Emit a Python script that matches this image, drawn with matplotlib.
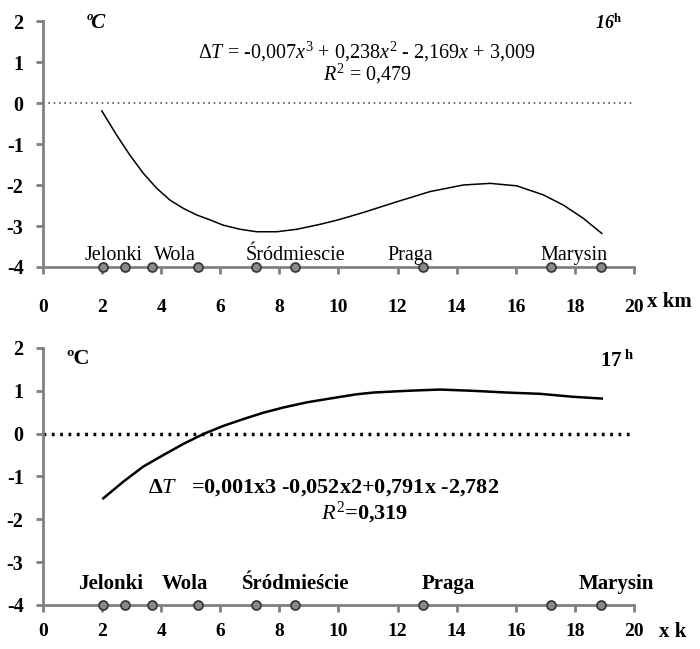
import matplotlib.pyplot as plt

plt.rcParams['font.family'] = ['Liberation Serif', 'DejaVu Serif']
plt.rcParams['mathtext.fontset'] = 'custom'
plt.rcParams['mathtext.rm'] = 'Liberation Serif'
plt.rcParams['mathtext.it'] = 'Liberation Serif:italic'
plt.rcParams['mathtext.bf'] = 'Liberation Serif:bold'

# distance along the transect (km) and temperature anomaly (°C)
x16 = [1.99, 2.49, 2.94, 3.39, 3.85, 4.30, 4.75, 5.20, 5.65, 6.10, 6.67, 7.23,
       7.91, 8.59, 9.37, 9.99, 10.84, 11.97, 13.10, 14.22, 15.13, 16.03,
       16.93, 17.61, 18.28, 18.91]
t16 = [-0.19, -0.78, -1.27, -1.71, -2.08, -2.37, -2.57, -2.73, -2.85, -2.98,
       -3.08, -3.14, -3.14, -3.08, -2.96, -2.85, -2.67, -2.41, -2.16, -2.0,
       -1.96, -2.02, -2.24, -2.49, -2.81, -3.18]

x17 = [2.04, 2.72, 3.39, 4.07, 4.75, 5.42, 6.10, 6.78, 7.46, 8.13, 8.92, 9.71,
       10.62, 11.18, 12.31, 13.43, 14.56, 15.69, 16.82, 17.95, 18.91]
t17 = [-1.51, -1.12, -0.77, -0.50, -0.24, -0.01, 0.18, 0.34, 0.49, 0.61, 0.73,
       0.82, 0.92, 0.96, 1.0, 1.03, 1.0, 0.96, 0.93, 0.86, 0.82]

# measuring stations
stations_x = [2.02, 2.77, 3.68, 5.23, 7.2, 8.53, 12.85, 17.2, 18.87]

names16 = ['Jelonki', 'Wola', 'Śródmiescie', 'Praga', 'Marysin']
names16_x = [2.39, 4.45, 8.53, 12.42, 17.97]
names17 = ['Jelonki', 'Wola', 'Śródmieście', 'Praga', 'Marysin']
names17_x = [2.3, 4.8, 8.56, 13.7, 19.4]

xticks = [0, 2, 4, 6, 8, 10, 12, 14, 16, 18, 20]
yticks = [-4, -3, -2, -1, 0, 1, 2]

fig = plt.figure(figsize=(7, 6.49), dpi=100)
ax1 = fig.add_axes([0.0614, 0.5886, 0.8443, 0.379])
ax2 = fig.add_axes([0.0614, 0.0678, 0.8443, 0.396])

grey = '#808080'


def style_axis(ax, pad):
    ax.set_xlim(0, 20)
    ax.set_ylim(-4, 2)
    ax.set_xticks(xticks)
    ax.set_yticks(yticks)
    ax.set_xticklabels([str(v) for v in xticks], fontsize=14, fontweight='bold')
    ax.set_yticklabels([str(v) for v in yticks], fontsize=14.5, fontweight='bold')
    for s in ['top', 'right']:
        ax.spines[s].set_visible(False)
    for s in ['left', 'bottom']:
        ax.spines[s].set_color(grey)
        ax.spines[s].set_linewidth(2)
    ax.tick_params(axis='both', colors=grey, width=2, length=5, labelcolor='black')
    ax.tick_params(axis='x', pad=pad)
    ax.tick_params(axis='y', pad=9)


# 16 h
style_axis(ax1, 18)
ax1.plot([0, 20], [0, 0], color='#555555', lw=1.2, ls=(0, (1, 2.2)))
ax1.plot(x16, t16, color='black', lw=1.1)
ax1.plot(stations_x, [-4] * len(stations_x), 'o', ms=6.5, mfc='#888888',
         mec='#333333', mew=1.2, clip_on=False, zorder=5)
for n, xv in zip(names16, names16_x):
    ax1.text(xv, -3.72, n, ha='center', va='center', fontsize=14.5)
ax1.text(10.96, 1.25,
         r'$\Delta T$ = -0,007$x^3$ + 0,238$x^2$ - 2,169$x$ + 3,009',
         ha='center', va='center', fontsize=14.5)
ax1.text(11.0, 0.71, r'$R^2$ = 0,479', ha='center', va='center', fontsize=14.5)
ax1.text(1.8, 1.95, 'ºC', ha='center', va='center', fontsize=15,
         fontweight='bold', fontstyle='italic')
ax1.text(19.6, 1.95, r'16$^{\mathbf{h}}$', ha='right', va='center', fontsize=13,
         fontweight='bold', fontstyle='italic')
ax1.text(21.2, -4.85, 'x km', ha='center', va='center', fontsize=15,
         fontweight='bold', clip_on=False)

# 17 h
style_axis(ax2, 8)
ax2.plot([0, 20], [0, 0], color='black', lw=2.5, ls=(0, (0.8, 1.6)))
ax2.plot(x17, t17, color='black', lw=1.8)
ax2.plot(stations_x, [-4] * len(stations_x), 'o', ms=6.5, mfc='#888888',
         mec='#333333', mew=1.2, clip_on=False, zorder=5)
for n, xv in zip(names17, names17_x):
    ax2.text(xv, -3.5, n, ha='center', va='center', fontsize=15, fontweight='bold')
ax2.text(3.55, -1.25,
         r'$\mathbf{\Delta}\mathit{T}$   =0,001x3 -0,052x2+0,791x -2,782',
         ha='left', va='center', fontsize=16, fontweight='bold')
ax2.text(10.9, -1.85, r'$\mathit{R}^2$=0,319', ha='center', va='center',
         fontsize=16, fontweight='bold')
ax2.text(1.2, 1.75, 'ºC', ha='center', va='center', fontsize=16, fontweight='bold')
ax2.text(20.0, 1.7, r'17$^{\mathbf{\ h}}$', ha='right', va='center', fontsize=15,
         fontweight='bold')
ax2.text(21.3, -4.62, 'x k', ha='center', va='center', fontsize=15,
         fontweight='bold', clip_on=False)

fig.savefig('out.png', dpi=100)
